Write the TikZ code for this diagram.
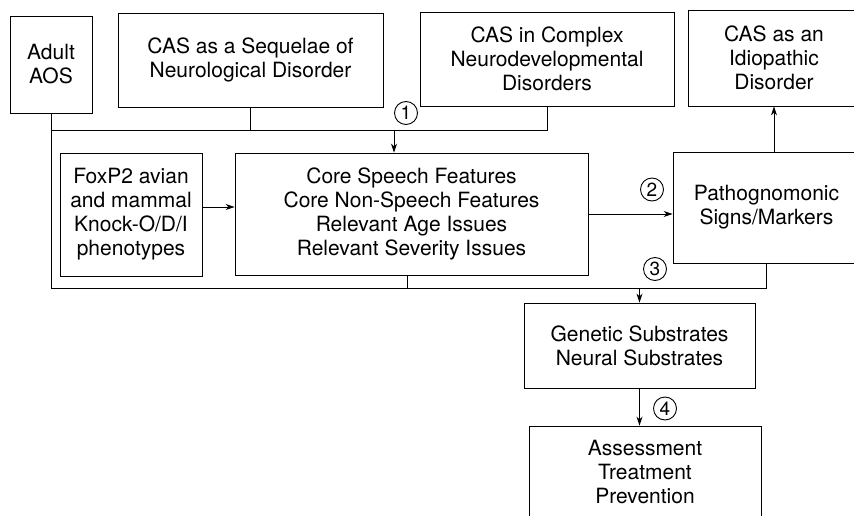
\documentclass[tikz,border=0pt]{standalone}
\usepackage{fontspec}
\setmainfont{TeX Gyre Heros}
\usetikzlibrary{arrows.meta}

\begin{document}
\begin{tikzpicture}[x=1pt,y=-1pt,
   box/.style={draw,line width=0.9pt,align=center,inner sep=0pt,font=\fontsize{21}{24}\selectfont},
   num/.style={circle,draw,line width=0.9pt,minimum size=23pt,inner sep=0pt,font=\fontsize{19}{19}\selectfont},
   link/.style={line width=0.9pt},
   arr/.style={line width=0.9pt,-{Stealth[length=9pt,width=6pt]}}]
   \useasboundingbox (0,0) rectangle (854,516);
   \clip (0,0) rectangle (854,516);
   % Top row
   \node[box,minimum width=82pt,minimum height=97pt] (aos) at (51,64.5) {Adult\\AOS};
   \node[box,minimum width=265pt,minimum height=94pt] (seq) at (250.5,60) {CAS as a Sequelae of\\Neurological Disorder};
   \node[box,minimum width=254pt,minimum height=94pt] (cnd) at (547,59) {CAS in Complex\\Neurodevelopmental\\Disorders};
   \node[box,minimum width=172pt,minimum height=96pt] (idio) at (774,58) {CAS as an\\Idiopathic\\Disorder};
   % Middle row
   \node[box,minimum width=142pt,minimum height=123pt] (fox) at (131,214.5) {FoxP2 avian\\and mammal\\Knock-O/D/I\\phenotypes};
   \node[box,minimum width=353pt,minimum height=122pt] (core) at (411.5,214) {Core Speech Features\\Core Non-Speech Features\\Relevant Age Issues\\Relevant Severity Issues};
   \node[box,minimum width=187pt,minimum height=111pt] (path) at (766.5,207.5) {Pathognomonic\\Signs/Markers};
   % Bottom column
   \node[box,minimum width=231pt,minimum height=85pt] (gen) at (639.5,345.5) {Genetic Substrates\\Neural Substrates};
   \node[box,minimum width=232pt,minimum height=92pt] (ass) at (645,472) {Assessment\\Treatment\\Prevention};
   % Join points
   \coordinate (j1) at (394,130);
   \coordinate (j3) at (639.5,288);
   % Upper bus
   \draw[link] (aos.south |- j1) -| (cnd.south);
   \draw[link] (seq.south) -- (seq.south |- j1);
   \draw[arr] (j1) -- (j1 |- core.north);
   % Lower bus
   \draw[link] (aos.south) -- (aos.south |- j3) -| (path.south);
   \draw[link] (407,275) -- (407,288);
   \draw[arr] (j3) -- (gen.north);
   % Arrows
   \draw[arr] (fox.east |- 0,207) -- (core.west |- 0,207);
   \draw[arr] (core.east) -- (core.east -| path.west);
   \draw[arr] (idio.south |- path.north) -- (idio.south);
   \draw[arr] (gen.south) -- (gen.south |- ass.north);
   % Step numbers
   \node[num] (n1) at (406,113) {1};
   \node[num] (n2) at (652,189.5) {2};
   \node[num] (n3) at (655,269) {3};
   \node[num] (n4) at (665,408.5) {4};
 \end{tikzpicture}
\end{document}
